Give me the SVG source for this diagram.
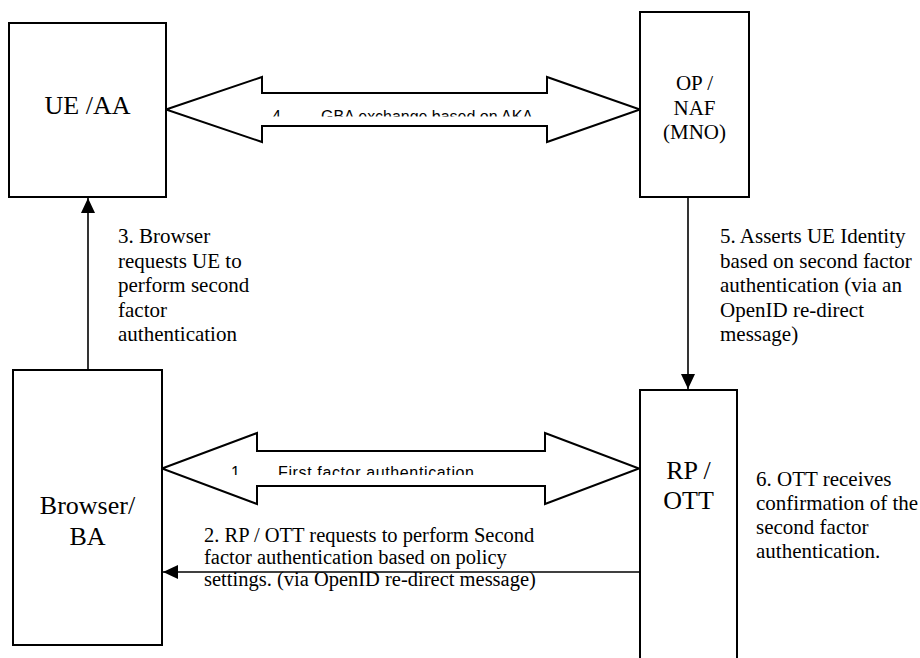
<svg xmlns="http://www.w3.org/2000/svg" width="920" height="658" viewBox="0 0 920 658">
  <style>
    .box { fill: #ffffff; stroke: #000000; stroke-width: 2; }
    .blk { fill: #ffffff; stroke: #000000; stroke-width: 2; stroke-linejoin: miter; }
    .conn { fill: none; stroke: #000000; stroke-width: 1.6; }
    .big { font-family: "Liberation Serif", "Times New Roman", serif; font-size: 26px; fill: #000; text-anchor: middle; }
    .mid { font-family: "Liberation Serif", "Times New Roman", serif; font-size: 21px; fill: #000; text-anchor: middle; }
    .lbl { font-family: "Liberation Serif", "Times New Roman", serif; font-size: 21px; fill: #000; }
    .lbl2 { font-family: "Liberation Serif", "Times New Roman", serif; font-size: 20.5px; fill: #000; }
    .sans { font-family: "Liberation Sans", Arial, sans-serif; font-size: 16px; fill: #000; }
  </style>
  <defs>
    <marker id="arr" markerUnits="userSpaceOnUse" markerWidth="16" markerHeight="14" refX="15" refY="7" orient="auto">
      <path d="M0,0 L15,7 L0,14 Z" fill="#000"/>
    </marker>
    <clipPath id="clip4"><rect x="170" y="94" width="468" height="22.5"/></clipPath>
    <clipPath id="clip1"><rect x="165" y="452" width="470" height="23"/></clipPath>
  </defs>

  <rect width="920" height="658" fill="#ffffff"/>

  <g id="connectors">
    <g id="arrow4">
      <path class="blk" d="M166,109.5 L262,77 L262,93 L547,93 L547,77 L640,109.5 L547,142 L547,126 L262,126 L262,142 Z"/>
      <text class="sans" clip-path="url(#clip4)" y="121.5"><tspan x="272">4</tspan><tspan x="321" textLength="212">GBA exchange based on AKA</tspan></text>
    </g>
    <g id="arrow1">
      <path class="blk" d="M162,468.5 L257,433 L257,451 L545,451 L545,433 L639,468.5 L545,504 L545,486 L257,486 L257,504 Z"/>
      <text class="sans" clip-path="url(#clip1)" y="478"><tspan x="231">1</tspan><tspan x="278" textLength="196">First factor authentication</tspan></text>
    </g>
    <g id="arrow2">
      <line class="conn" x1="640" y1="572" x2="163" y2="572" marker-end="url(#arr)"/>
      <text class="lbl2"><tspan x="204" y="542">2. RP / OTT requests to perform Second</tspan><tspan x="204" y="564">factor authentication based on policy</tspan><tspan x="204" y="586">settings. (via OpenID re-direct message)</tspan></text>
    </g>
    <g id="arrow3">
      <line class="conn" x1="88" y1="370" x2="88" y2="198" marker-end="url(#arr)"/>
      <text class="lbl"><tspan x="118" y="243">3. Browser</tspan><tspan x="118" y="267.5">requests UE to</tspan><tspan x="118" y="292">perform second</tspan><tspan x="118" y="316.5">factor</tspan><tspan x="118" y="341">authentication</tspan></text>
    </g>
    <g id="arrow5">
      <line class="conn" x1="688" y1="197" x2="688" y2="389" marker-end="url(#arr)"/>
      <text class="lbl"><tspan x="720" y="243">5. Asserts UE Identity</tspan><tspan x="720" y="267.5">based on second factor</tspan><tspan x="720" y="292">authentication (via an</tspan><tspan x="720" y="316.5">OpenID re-direct</tspan><tspan x="720" y="341">message)</tspan></text>
    </g>
  </g>

  <g id="ue-aa">
    <rect class="box" x="9" y="23" width="157" height="174"/>
    <text class="big" x="87.5" y="114">UE /AA</text>
  </g>

  <g id="op-naf">
    <rect class="box" x="640" y="12" width="109" height="185"/>
    <text class="mid" x="694.5" y="90">OP /</text>
    <text class="mid" x="694.5" y="115">NAF</text>
    <text class="mid" x="694.5" y="139">(MNO)</text>
  </g>

  <g id="browser-ba">
    <rect class="box" x="13" y="370" width="149" height="275"/>
    <text class="big" x="87.5" y="514">Browser/</text>
    <text class="big" x="87.5" y="545">BA</text>
  </g>

  <g id="rp-ott">
    <rect class="box" x="640" y="390" width="97" height="300"/>
    <text class="big" x="688.5" y="479">RP /</text>
    <text class="big" x="688.5" y="509">OTT</text>
  </g>

  <g id="note6">
    <text class="lbl"><tspan x="756" y="486">6. OTT receives</tspan><tspan x="756" y="510">confirmation of the</tspan><tspan x="756" y="534">second factor</tspan><tspan x="756" y="558">authentication.</tspan></text>
  </g>
</svg>
